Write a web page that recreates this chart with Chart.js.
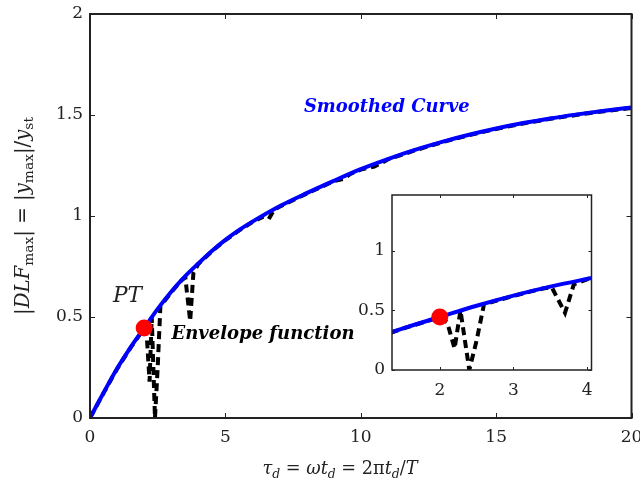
<!DOCTYPE html>
<html>
<head>
<meta charset="utf-8">
<script src="https://cdn.jsdelivr.net/npm/chart.js@4.4.0/dist/chart.umd.min.js"></script>
<style>
  body { margin: 0; background: #fff; }
  #wrap { position: relative; width: 640px; height: 480px; }
  #main { position: absolute; left: 0; top: 0; }
  #inset { position: absolute; left: 340px; top: 185px; }
</style>
</head>
<body>
<div id="wrap">
  <canvas id="main" width="640" height="480"></canvas>
  <canvas id="inset" width="260" height="220"></canvas>
</div>
<script>
// smoothed curve (blue)
var curveX = [0, 0.5, 1, 1.5, 2, 2.5, 3, 3.5, 4, 4.5, 5, 5.5, 6, 7, 8, 9, 10, 11, 12, 13, 14, 15, 16, 17, 18, 19, 20];
var curveY = [0, 0.125, 0.245, 0.35, 0.445, 0.54, 0.625, 0.70, 0.765, 0.827, 0.882, 0.93, 0.972, 1.048, 1.113, 1.174, 1.232, 1.282, 1.327, 1.367, 1.402, 1.433, 1.46, 1.483, 1.503, 1.521, 1.537];

// envelope function (black dashed)
var envX = [0, 0.5, 1, 1.5, 2, 2.1, 2.2, 2.28, 2.4, 2.5, 2.6, 2.8, 3, 3.2, 3.4, 3.52, 3.7, 3.82, 4, 4.5, 5, 5.5, 6, 6.4, 6.6, 6.8, 7, 8, 9, 9.4, 9.6, 10, 10.5, 10.8, 11, 12, 13, 14, 15, 16, 17, 18, 19, 20];
var envY = [0, 0.123, 0.243, 0.348, 0.443, 0.40, 0.18, 0.50, 0.0, 0.25, 0.553, 0.588, 0.622, 0.654, 0.684, 0.695, 0.48, 0.72, 0.762, 0.825, 0.88, 0.928, 0.97, 0.997, 0.985, 1.03, 1.046, 1.111, 1.172, 1.185, 1.207, 1.23, 1.245, 1.265, 1.28, 1.325, 1.365, 1.4, 1.431, 1.458, 1.481, 1.501, 1.519, 1.535];

// peak point
var ptX = [2];
var ptY = [0.445];

// ticks
var mainXTicks = [0, 5, 10, 15, 20];
var mainYTicks = [0, 0.5, 1, 1.5, 2];
var insetXTicks = [2, 3, 4];
var insetYTicks = [0, 0.5, 1];

// text notes on the main plot
var noteText = ['Smoothed Curve', 'PT', 'Envelope function'];
var noteX = [7.9, 0.85, 3.01];
var noteY = [1.54, 0.6, 0.416];

var serif = '"DejaVu Serif", serif';
var tickFont = {family: 'DejaVu Serif', size: 17};

function pts(xs, ys) {
  return xs.map(function(v, i) { return {x: v, y: ys[i]}; });
}

function fitSize(ctx, text, style, width) {
  ctx.font = style + ' 20px ' + serif;
  return 20 * width / ctx.measureText(text).width;
}

// parts: [text, style, relSize, relShift]
function richWidth(ctx, parts, base) {
  var w = 0;
  parts.forEach(function(p) {
    ctx.font = p[1] + ' ' + (base * p[2]) + 'px ' + serif;
    w += ctx.measureText(p[0]).width;
  });
  return w;
}

function drawRich(ctx, parts, target, cx, cy) {
  var base = 20 * target / richWidth(ctx, parts, 20);
  var x = cx - richWidth(ctx, parts, base) / 2;
  ctx.textAlign = 'left';
  ctx.textBaseline = 'alphabetic';
  parts.forEach(function(p) {
    ctx.font = p[1] + ' ' + (base * p[2]) + 'px ' + serif;
    ctx.fillText(p[0], x, cy + p[3] * base);
    x += ctx.measureText(p[0]).width;
  });
}

function tickList(arr) {
  return function(s) { s.ticks = arr.map(function(v) { return {value: v}; }); };
}

var frame = {
  id: 'frame',
  beforeDraw: function(chart, args, o) {
    var a = chart.chartArea, ctx = chart.ctx;
    if (o.fill) {
      ctx.save();
      ctx.fillStyle = '#fff';
      ctx.fillRect(a.left, a.top, a.right - a.left, a.bottom - a.top);
      ctx.restore();
    }
  },
  afterDraw: function(chart, args, o) {
    var ctx = chart.ctx, a = chart.chartArea, len = o.tick;
    var sx = chart.scales.x, sy = chart.scales.y;
    ctx.save();
    ctx.strokeStyle = '#222';
    ctx.lineWidth = 1;
    ctx.beginPath();
    sx.ticks.forEach(function(t) {
      var p = Math.round(sx.getPixelForValue(t.value)) + 0.5;
      ctx.moveTo(p, a.bottom); ctx.lineTo(p, a.bottom - len);
      ctx.moveTo(p, a.top); ctx.lineTo(p, a.top + len);
    });
    sy.ticks.forEach(function(t) {
      var p = Math.round(sy.getPixelForValue(t.value)) + 0.5;
      ctx.moveTo(a.left, p); ctx.lineTo(a.left + len, p);
      ctx.moveTo(a.right, p); ctx.lineTo(a.right - len, p);
    });
    ctx.stroke();
    ctx.lineWidth = o.width;
    ctx.strokeRect(a.left, a.top, a.right - a.left, a.bottom - a.top);
    ctx.restore();
  }
};

function makeSets() {
  return [
    {label: 'PT', data: pts(ptX, ptY), showLine: false, pointRadius: 8.5,
     pointBackgroundColor: '#ff0000', pointBorderWidth: 0, order: 0},
    {label: 'Smoothed Curve', data: pts(curveX, curveY), showLine: true, borderColor: '#0000ff',
     borderWidth: 4, pointRadius: 0, cubicInterpolationMode: 'monotone', order: 1, clip: 0},
    {label: 'Envelope function', data: pts(envX, envY), showLine: true, borderColor: '#000',
     borderWidth: 4, borderDash: [8, 5], pointRadius: 0, tension: 0, order: 2, clip: 0}
  ];
}

function axis(min, max, ticks, pad, fit) {
  return {
    type: 'linear', min: min, max: max,
    afterBuildTicks: tickList(ticks),
    ticks: {font: tickFont, color: '#222', padding: pad, maxRotation: 0,
            callback: function(v) { return String(v); }},
    grid: {display: false, drawTicks: false}, border: {display: false},
    afterFit: fit
  };
}

var notes = {
  id: 'notes',
  afterDraw: function(chart) {
    var ctx = chart.ctx, sx = chart.scales.x, sy = chart.scales.y;
    var styles = ['italic bold', 'italic', 'italic bold'];
    var widths = [166, 29, 183];
    var colors = ['#0000ff', '#222', '#000'];
    ctx.save();
    noteText.forEach(function(t, i) {
      var size = fitSize(ctx, t, styles[i], widths[i]);
      ctx.font = styles[i] + ' ' + size + 'px ' + serif;
      ctx.fillStyle = colors[i];
      ctx.textAlign = 'left';
      ctx.textBaseline = 'middle';
      ctx.fillText(t, sx.getPixelForValue(noteX[i]), sy.getPixelForValue(noteY[i]));
    });

    ctx.fillStyle = '#222';
    drawRich(ctx, [
      ['\u03c4', 'italic', 1, 0], ['d', 'italic', 0.7, 0.2],
      [' = ', 'normal', 1, 0], ['\u03c9t', 'italic', 1, 0], ['d', 'italic', 0.7, 0.2],
      [' = 2\u03c0', 'normal', 1, 0], ['t', 'italic', 1, 0], ['d', 'italic', 0.7, 0.2],
      ['/', 'normal', 1, 0], ['T', 'italic', 1, 0]
    ], 155, 340, 474);

    ctx.translate(29, 216);
    ctx.rotate(-Math.PI / 2);
    drawRich(ctx, [
      ['|', 'normal', 1, 0], ['DLF', 'italic', 1, 0], ['max', 'normal', 0.7, 0.2],
      ['| = |', 'normal', 1, 0], ['y', 'italic', 1, 0], ['max', 'normal', 0.7, 0.2],
      ['|/', 'normal', 1, 0], ['y', 'italic', 1, 0], ['st', 'normal', 0.7, 0.2]
    ], 198, 0, 0);
    ctx.restore();
  }
};

new Chart(document.getElementById('main'), {
  type: 'scatter',
  data: {datasets: makeSets()},
  options: {
    responsive: false, animation: false,
    layout: {padding: {top: 14, right: 8, left: 0, bottom: 0}},
    plugins: {legend: {display: false}, tooltip: {enabled: false}, frame: {tick: 5, width: 2}},
    scales: {
      x: axis(0, 20, mainXTicks, 9, function(s) { s.height = 62; s.paddingLeft = 0; s.paddingRight = 0; }),
      y: axis(0, 2, mainYTicks, 7, function(s) { s.width = 90; s.paddingTop = 0; s.paddingBottom = 0; })
    }
  },
  plugins: [frame, notes]
});

new Chart(document.getElementById('inset'), {
  type: 'scatter',
  data: {datasets: makeSets()},
  options: {
    responsive: false, animation: false,
    layout: {padding: {top: 10, right: 8, left: 0, bottom: 0}},
    plugins: {legend: {display: false}, tooltip: {enabled: false}, frame: {tick: 3, width: 1.5, fill: true}},
    scales: {
      x: axis(1.35, 4.06, insetXTicks, 10, function(s) { s.height = 35; s.paddingLeft = 0; s.paddingRight = 0; }),
      y: axis(0, 1.47, insetYTicks, 7, function(s) { s.width = 52; s.paddingTop = 0; s.paddingBottom = 0; })
    }
  },
  plugins: [frame]
});
</script>
</body>
</html>
